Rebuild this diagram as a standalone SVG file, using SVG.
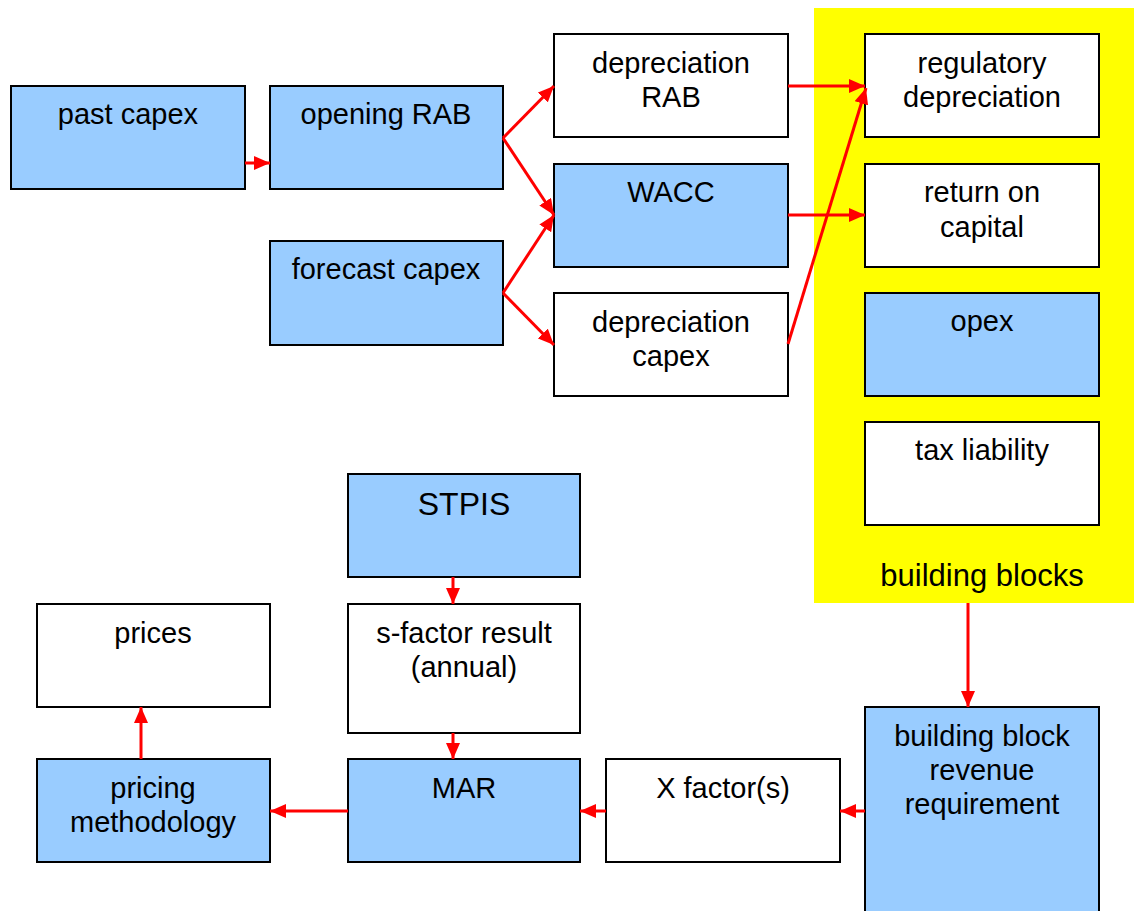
<svg xmlns="http://www.w3.org/2000/svg" width="1134" height="911" viewBox="0 0 1134 911">
<style>
.b{fill:#99CCFF;stroke:#000;stroke-width:2}
.w{fill:#fff;stroke:#000;stroke-width:2}
.t{font-family:"Liberation Sans",Arial,sans-serif;font-size:29px;fill:#000;text-anchor:middle}
.c{stroke:#FF0000;stroke-width:3;fill:none;marker-end:url(#ah)}
</style>
<defs>
<marker id="ah" markerUnits="userSpaceOnUse" viewBox="0 0 16 14" refX="16" refY="7" markerWidth="16" markerHeight="14" orient="auto">
<path d="M0,0 L16,7 L0,14 z" fill="#FF0000"/>
</marker>
</defs>
<rect width="1134" height="911" fill="#fff"/>
<g id="buildingblocks">
<rect x="814" y="8" width="320" height="595" fill="#FFFF00"/>
<text class="t" x="982" y="586" style="font-size:31px">building blocks</text>
</g>
<g id="pastcapex"><rect class="b" x="11" y="86" width="234" height="103"/><text class="t" x="128" y="124">past capex</text></g>
<g id="openingrab"><rect class="b" x="270" y="86" width="233" height="103"/><text class="t" x="386" y="124">opening RAB</text></g>
<g id="forecastcapex"><rect class="b" x="270" y="241" width="233" height="104"/><text class="t" x="386" y="279">forecast capex</text></g>
<g id="deprab"><rect class="w" x="554" y="34" width="234" height="103"/><text class="t" x="671" y="73">depreciation</text><text class="t" x="671" y="107">RAB</text></g>
<g id="wacc"><rect class="b" x="554" y="164" width="234" height="103"/><text class="t" x="671" y="202">WACC</text></g>
<g id="depcapex"><rect class="w" x="554" y="293" width="234" height="103"/><text class="t" x="671" y="332">depreciation</text><text class="t" x="671" y="366">capex</text></g>
<g id="regdep"><rect class="w" x="865" y="34" width="234" height="103"/><text class="t" x="982" y="73">regulatory</text><text class="t" x="982" y="107">depreciation</text></g>
<g id="roc"><rect class="w" x="865" y="164" width="234" height="103"/><text class="t" x="982" y="202">return on</text><text class="t" x="982" y="237">capital</text></g>
<g id="opex"><rect class="b" x="865" y="293" width="234" height="103"/><text class="t" x="982" y="331">opex</text></g>
<g id="tax"><rect class="w" x="865" y="422" width="234" height="103"/><text class="t" x="982" y="460">tax liability</text></g>
<g id="stpis"><rect class="b" x="348" y="474" width="232" height="103"/><text class="t" x="464" y="515" style="font-size:32px">STPIS</text></g>
<g id="sfactor"><rect class="w" x="348" y="604" width="232" height="129"/><text class="t" x="464" y="643">s-factor result</text><text class="t" x="464" y="677">(annual)</text></g>
<g id="prices"><rect class="w" x="37" y="604" width="233" height="103"/><text class="t" x="153" y="643">prices</text></g>
<g id="pricing"><rect class="b" x="37" y="759" width="233" height="103"/><text class="t" x="153" y="798">pricing</text><text class="t" x="153" y="832">methodology</text></g>
<g id="mar"><rect class="b" x="348" y="759" width="232" height="103"/><text class="t" x="464" y="798">MAR</text></g>
<g id="xfactor"><rect class="w" x="606" y="759" width="234" height="103"/><text class="t" x="723" y="798">X factor(s)</text></g>
<g id="bbrr"><rect class="b" x="865" y="707" width="234" height="215"/><text class="t" x="982" y="746">building block</text><text class="t" x="982" y="780">revenue</text><text class="t" x="982" y="814">requirement</text></g>
<g id="connectors">
<path class="c" d="M245,163 L270,163"/>
<path class="c" d="M503,138 L554,86"/>
<path class="c" d="M503,138 L554,215"/>
<path class="c" d="M503,293 L554,215"/>
<path class="c" d="M503,293 L554,345"/>
<path class="c" d="M788,86 L865,86"/>
<path class="c" d="M788,215 L865,215"/>
<path class="c" d="M788,344 L866,88"/>
<path class="c" d="M968,603 L968,707"/>
<path class="c" d="M865,811 L840,811"/>
<path class="c" d="M606,811 L580,811"/>
<path class="c" d="M348,811 L270,811"/>
<path class="c" d="M141,759 L141,707"/>
<path class="c" d="M453,577 L453,604"/>
<path class="c" d="M453,733 L453,759"/>
</g>
</svg>
